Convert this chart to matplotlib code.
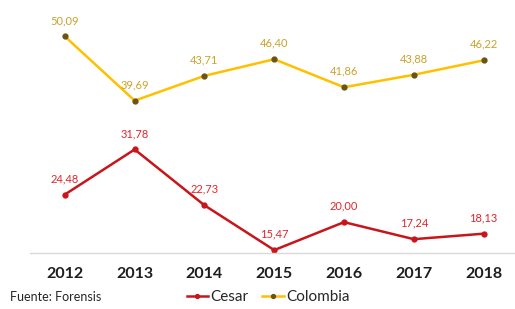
import matplotlib.pyplot as plt

years = ["2012", "2013", "2014", "2015", "2016", "2017", "2018"]
cesar = [24.48, 31.78, 22.73, 15.47, 20.00, 17.24, 18.13]
colombia = [50.09, 39.69, 43.71, 46.40, 41.86, 43.88, 46.22]

plt.rcParams['font.family'] = ['Lato', 'DejaVu Sans']

fig = plt.figure(figsize=(5.15, 3.09), dpi=100)
ax = fig.add_axes([30/515, 1 - 253/309, 485/515, 253/309])

x = range(len(years))
red = "#C8151B"
gold = "#FFC000"

ax.plot(x, cesar, color=red, lw=1.8, marker='o', ms=3.5, mfc=red, mec=red, label="Cesar")
ax.plot(x, colombia, color=gold, lw=1.8, marker='o', ms=3.5, mfc="#6B5412", mec="#6B5412", label="Colombia")

for i, v in enumerate(cesar):
    ax.annotate(f"{v:.2f}".replace(".", ","), (i, v), xytext=(0, 11.5), textcoords='offset points',
                ha='center', va='center', fontsize=8, color="#E0262B")
for i, v in enumerate(colombia):
    ax.annotate(f"{v:.2f}".replace(".", ","), (i, v), xytext=(0, 11.5), textcoords='offset points',
                ha='center', va='center', fontsize=8, color="#C9A22A")

ax.set_xlim(-0.5, 6.45)
ax.set_ylim(15, 56)
ax.set_xticks(list(x))
ax.set_xticklabels(years, fontsize=11.5, color="#1E1E1E", fontweight='bold')
ax.set_yticks([])
ax.tick_params(axis='x', length=0, pad=10)
for s in ['top', 'right', 'left']:
    ax.spines[s].set_visible(False)
ax.spines['bottom'].set_color("#D9D9D9")
ax.spines['bottom'].set_linewidth(1)

fig.text(10/515, 1 - 297/309, "Fuente: Forensis", fontsize=9, color="#262626", va='center')
fig.legend(loc='center', bbox_to_anchor=(268/515, 1 - 297/309), ncol=2, frameon=False,
           fontsize=11, handlelength=1.4, handletextpad=0.15, columnspacing=0.9,
           labelcolor="#262626", markerscale=0.8)

fig.savefig("out.png", dpi=100)
